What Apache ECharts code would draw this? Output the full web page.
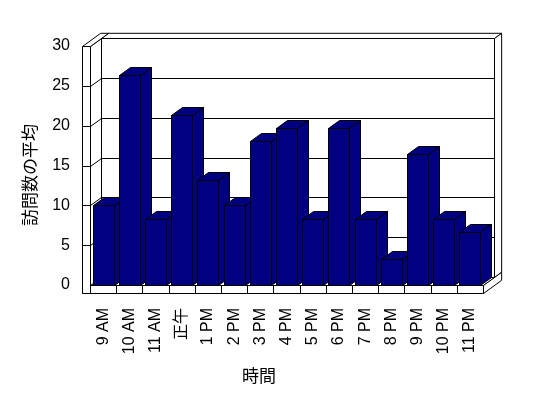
<!DOCTYPE html>
<html>
<head>
<meta charset="utf-8">
<script src="https://cdn.jsdelivr.net/npm/echarts@6/dist/echarts.min.js"></script>
<style>
  html, body { margin: 0; padding: 0; background: #fff; }
  #chart { width: 548px; height: 398px; }
</style>
</head>
<body>
<div id="chart"></div>
<script>
// 時間帯
const categories = ["9 AM", "10 AM", "11 AM", "正午", "1 PM", "2 PM", "3 PM", "4 PM",
  "5 PM", "6 PM", "7 PM", "8 PM", "9 PM", "10 PM", "11 PM"];
// 訪問数の平均
const visits = [10, 26.4, 8.3, 21.4, 13.2, 10, 18.1, 19.7, 8.3, 19.7, 8.3, 3.3, 16.5, 8.3, 6.6];
// 目盛り
const yTicks = [0, 5, 10, 15, 20, 25, 30];

// 奥行き (px)
const DX = 11, DY = -8;
// 壁の厚み込みの奥行き倍率
const T = 1.65;
const WALL = 8, FLOOR = 8;

const chart = echarts.init(document.getElementById("chart"));

function px(v) {
  return Math.round(v) + 0.5;
}

// 壁と床
function renderFrame(params, api) {
  const cs = params.coordSys;
  const L = px(cs.x), R = px(cs.x + cs.width);
  const top = px(cs.y), bot = px(cs.y + cs.height);
  const kids = [];
  const poly = (pts) => kids.push({
    type: "polygon",
    shape: { points: pts },
    style: { fill: "#fff", stroke: "#000", lineWidth: 1 },
  });
  const line = (a, b) => kids.push({
    type: "line",
    shape: { x1: a[0], y1: a[1], x2: b[0], y2: b[1] },
    style: { stroke: "#000", lineWidth: 1 },
  });
  const inner = yTicks.slice(1, -1).map((v) => px(api.coord([0, v])[1]));

  // 奥の壁
  poly([[L + DX, top + DY], [R + DX, top + DY], [R + DX, bot + DY], [L + DX, bot + DY]]);
  poly([[L + DX, top + DY], [R + DX, top + DY], [R + DX * T, top + DY * T], [L + DX * T, top + DY * T]]);
  poly([[R + DX, top + DY], [R + DX * T, top + DY * T], [R + DX * T, bot + DY * T], [R + DX, bot + DY]]);
  inner.forEach((y) => line([L + DX, y + DY], [R + DX, y + DY]));

  // 床
  poly([[L, bot], [R, bot], [R + DX, bot + DY], [L + DX, bot + DY]]);
  poly([[R, bot], [R + DX * T, bot + DY * T], [R + DX * T, bot + DY * T + FLOOR], [R, bot + FLOOR]]);
  poly([[L - WALL, bot], [R, bot], [R, bot + FLOOR], [L - WALL, bot + FLOOR]]);
  const n = categories.length;
  for (let i = 1; i < n; i++) {
    const x = px(cs.x + (i * cs.width) / n);
    line([x, bot], [x, bot + FLOOR]);
  }

  // 左の壁
  poly([[L, top], [L + DX, top + DY], [L + DX, bot + DY], [L, bot]]);
  inner.forEach((y) => line([L, y], [L + DX, y + DY]));
  poly([[L - WALL, top], [L, top], [L + DX * T, top + DY * T], [L - WALL + DX * T, top + DY * T]]);
  poly([[L - WALL, top], [L, top], [L, bot + FLOOR], [L - WALL, bot + FLOOR]]);
  inner.forEach((y) => line([L - WALL, y], [L, y]));

  return { type: "group", children: kids };
}

// 3D 棒
function renderBar(params, api) {
  const i = api.value(0);
  const tp = api.coord([i, api.value(1)]);
  const bp = api.coord([i, 0]);
  const bw = Math.round(api.size([1, 0])[0] * 0.82);
  const x0 = px(tp[0] - bw / 2), x1 = x0 + bw;
  const y1 = px(tp[1]), y0 = px(bp[1]);
  const style = { fill: "#000080", stroke: "#000", lineWidth: 1 };
  return {
    type: "group",
    children: [
      { type: "polygon", shape: { points: [[x1, y1], [x1 + DX, y1 + DY], [x1 + DX, y0 + DY], [x1, y0]] }, style },
      { type: "polygon", shape: { points: [[x0, y1], [x1, y1], [x1 + DX, y1 + DY], [x0 + DX, y1 + DY]] }, style },
      { type: "rect", shape: { x: x0, y: y1, width: bw, height: y0 - y1 }, style },
    ],
  };
}

const option = {
  backgroundColor: "#fff",
  animation: false,
  grid: { left: 90, right: 65, top: 46, bottom: 113 },
  xAxis: {
    type: "category",
    data: categories,
    axisLine: { show: false },
    axisTick: { show: false },
    splitLine: { show: false },
    axisLabel: {
      interval: 0,
      rotate: 90,
      margin: 23,
      color: "#000",
      fontSize: 16,
      fontFamily: "Liberation Sans, Noto Sans CJK JP",
    },
  },
  yAxis: {
    type: "value",
    min: 0,
    max: 30,
    interval: 5,
    axisLine: { show: false },
    axisTick: { show: false },
    splitLine: { show: false },
    axisLabel: {
      margin: 20,
      color: "#000",
      fontSize: 16,
      fontFamily: "Liberation Sans",
    },
  },
  graphic: [
    {
      type: "text",
      x: 29.5,
      y: 175,
      rotation: Math.PI / 2,
      style: {
        text: "訪問数の平均",
        fill: "#000",
        fontSize: 17,
        fontFamily: "Noto Sans CJK JP",
        align: "center",
        verticalAlign: "middle",
      },
    },
    {
      type: "text",
      x: 259,
      y: 375.5,
      style: {
        text: "時間",
        fill: "#000",
        fontSize: 17,
        fontFamily: "Noto Sans CJK JP",
        align: "center",
        verticalAlign: "middle",
      },
    },
  ],
  series: [
    {
      type: "custom",
      z: 1,
      renderItem: renderFrame,
      data: [[0, 0]],
      encode: { x: 0, y: 1 },
      silent: true,
    },
    {
      type: "custom",
      z: 2,
      renderItem: renderBar,
      data: visits.map((v, i) => [i, v]),
      encode: { x: 0, y: 1 },
    },
  ],
};

chart.setOption(option);
</script>
</body>
</html>
